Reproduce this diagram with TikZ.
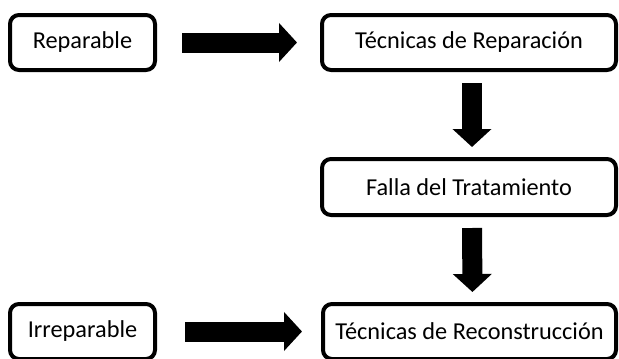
\documentclass[tikz,border=0pt]{standalone}
\usepackage{fontspec}
\setmainfont{Carlito}
\usetikzlibrary{arrows.meta}
\begin{document}
\begin{tikzpicture}[x=1pt,y=1pt,
  box/.style={draw=black, line width=4pt, rounded corners=9pt, fill=white,
    inner sep=0pt, minimum height=55pt, font=\fontsize{24.3}{28}\selectfont},
  blockarr/.style={draw=black, line width=20pt,
    -{Triangle[length=18pt,width=38pt]}}]
\useasboundingbox (0,0) rectangle (619,-359);
\node[box, minimum width=145pt] (rep) at (82.5,-42.5) {Reparable};
\node[box, minimum width=294pt] (tr) at (469,-42.5) {Técnicas de Reparación};
\node[box, minimum width=294pt, minimum height=56pt] (ft) at (469,-187) {Falla del Tratamiento};
\node[box, minimum width=145pt] (irr) at (82.5,-331.5) {Irreparable};
\node[box, minimum width=293pt] (trc) at (469.5,-331.5) {Técnicas de Reconstrucción};
\draw[blockarr, shorten <=25pt, shorten >=23pt] (rep.east) -- (tr.west |- rep.east);
\draw[blockarr, shorten <=28pt, shorten >=19pt] (irr.east) -- (trc.west |- irr.east);
\draw[blockarr, shorten <=11pt, shorten >=10pt] ([xshift=3pt]tr.south) -- ([xshift=3pt]ft.north);
\draw[blockarr, shorten <=11pt, shorten >=10pt] ([xshift=3pt]ft.south) -- ([xshift=3pt]trc.north);
\end{tikzpicture}
\end{document}
